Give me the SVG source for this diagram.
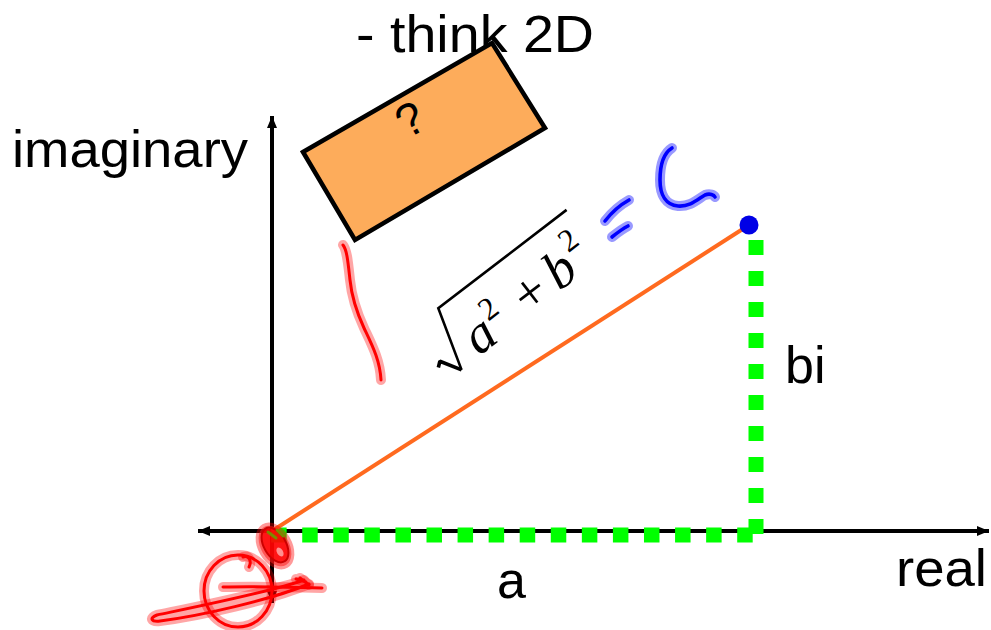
<svg xmlns="http://www.w3.org/2000/svg" xmlns:xlink="http://www.w3.org/1999/xlink" width="991" height="630" viewBox="0 0 991 630">
  <style>
    .lbl { font-family: "Liberation Sans", Arial, sans-serif; font-size: 52px; fill: #000; }
    .math { font-family: "Liberation Serif", "Times New Roman", serif; fill: #000; }
    .axis { stroke: #000; stroke-width: 4; fill: none; }
    .green { stroke: #00ff00; stroke-width: 15; fill: none; }
    .rhalo { stroke: #ff0000; stroke-opacity: 0.35; stroke-width: 10; fill: none; stroke-linecap: round; stroke-linejoin: round; }
    .rcore { stroke: #ff0000; stroke-width: 3; fill: none; stroke-linecap: round; stroke-linejoin: round; }
    .bhalo { stroke: #0000ff; stroke-opacity: 0.4; stroke-width: 10; fill: none; stroke-linecap: round; stroke-linejoin: round; }
    .bcore { stroke: #0000ff; stroke-width: 3.6; fill: none; stroke-linecap: round; stroke-linejoin: round; }
  </style>
  <defs>
    <marker id="arr" viewBox="0 0 12 10" refX="12" refY="5" markerWidth="12" markerHeight="10" markerUnits="userSpaceOnUse" orient="auto-start-reverse">
      <path d="M0,0 L12,5 L0,10 Z" fill="#000"/>
    </marker>
    <path id="redLine" d="M343,245 C347,250 348,262 350,280 C352,300 358,315 364,328 C372,345 380,360 381,380"/>
    <ellipse id="redCircle" cx="238" cy="591" rx="34" ry="36"/>
    <path id="redHook" d="M243,557 C249,555 252,561 249,567"/>
    <path id="redLoop" d="M304,580 C270,592 200,606 157,615 C149,618 151,622 160,621 C200,616 270,600 309,584"/>
    <path id="redStroke" d="M223,587 C255,586 290,587 322,588"/>
    <path id="redTicks" d="M296,579 L306,582 M300,578 L309,585"/>
    <path id="blueEq1" d="M605,221 C612,212 620,205 629,200"/>
    <path id="blueEq2" d="M612,237 C617,233 622,229 628,226"/>
    <path id="blueC" d="M672,148 C664,153 660,165 660,180 C660,195 666,205 678,206 C690,207 698,199 705,195 C710,193 714,195 715,197"/>
  </defs>

  <g id="title">
    <text class="lbl" x="356" y="52" textLength="238" lengthAdjust="spacingAndGlyphs">- think 2D</text>
  </g>

  <g id="axes">
    <line class="axis" x1="272" y1="603" x2="272" y2="116" marker-end="url(#arr)" marker-start="url(#arr)"/>
    <line class="axis" x1="198" y1="531" x2="989" y2="531" marker-end="url(#arr)" marker-start="url(#arr)"/>
  </g>

  <g id="labels">
    <text class="lbl" x="12" y="167" textLength="236" lengthAdjust="spacingAndGlyphs">imaginary</text>
    <text class="lbl" x="896" y="586" textLength="91" lengthAdjust="spacingAndGlyphs">real</text>
    <text class="lbl" x="785" y="383">bi</text>
    <text class="lbl" x="497" y="598">a</text>
  </g>

  <g id="box">
    <polygon points="303,152 492,43 545,128 355,240" fill="#fdac5b" stroke="#000" stroke-width="4.5" stroke-linejoin="miter"/>
    <text x="418" y="133" transform="rotate(-30 418 133)" text-anchor="middle" style="font-family:'Liberation Sans',Arial,sans-serif;font-size:46px;fill:#000">?</text>
  </g>

  <g id="connectors">
    <path class="green" d="M752.7,535 H270" stroke-dasharray="15.5 15.57"/>
    <path class="green" d="M756,534 V239" stroke-dasharray="15 16"/>
    <line x1="272" y1="531" x2="749" y2="225" stroke="#ff6a1f" stroke-width="4"/>
    <circle cx="749" cy="225" r="9.5" fill="#0000e6"/>
  </g>

  <g id="formula" transform="translate(438.3,308.3) rotate(-37.5)">
    <path d="M-19,63 L0,0 L161.7,0" fill="none" stroke="#000" stroke-width="2.6"/>
    <path d="M-36,47 L-31,43 L-19,63" fill="none" stroke="#000" stroke-width="3.6" stroke-linejoin="bevel"/>
    <text class="math" x="3" y="63" font-size="54" font-style="italic">a</text>
    <text class="math" x="31.5" y="41" font-size="32">2</text>
    <text class="math" x="67" y="61" font-size="54">+</text>
    <text class="math" x="106.5" y="60.5" font-size="54" font-style="italic">b</text>
    <text class="math" x="136.5" y="35.5" font-size="32">2</text>
  </g>

  <g id="blue-ink">
    <use xlink:href="#blueEq1" class="bhalo"/>
    <use xlink:href="#blueEq2" class="bhalo"/>
    <use xlink:href="#blueC" class="bhalo"/>
    <use xlink:href="#blueEq1" class="bcore"/>
    <use xlink:href="#blueEq2" class="bcore"/>
    <use xlink:href="#blueC" class="bcore"/>
  </g>

  <g id="red-ink">
    <use xlink:href="#redLine" class="rhalo"/>
    <use xlink:href="#redLine" class="rcore"/>
    <g id="origin-blob">
      <ellipse cx="275" cy="546" rx="22" ry="14" transform="rotate(60 275 546)" fill="#ff3030" fill-opacity="0.55" stroke="#ff0000" stroke-opacity="0.4" stroke-width="6"/>
      <ellipse cx="275" cy="545" rx="19" ry="11" transform="rotate(60 275 545)" fill="#ff0000" fill-opacity="0.85" stroke="#cc0000" stroke-width="2"/>
      <path d="M268,532 L276,538 M277,530 L283,536" stroke="#7a8a00" stroke-width="3" stroke-linecap="round"/>
      <ellipse cx="280" cy="552" rx="5" ry="3" transform="rotate(60 280 552)" fill="#ff9090"/>
    </g>
    <use xlink:href="#redCircle" class="rhalo"/>
    <use xlink:href="#redHook" class="rhalo"/>
    <use xlink:href="#redLoop" class="rhalo"/>
    <use xlink:href="#redStroke" class="rhalo"/>
    <use xlink:href="#redTicks" class="rhalo"/>
    <use xlink:href="#redCircle" class="rcore"/>
    <use xlink:href="#redHook" class="rcore"/>
    <use xlink:href="#redLoop" class="rcore"/>
    <use xlink:href="#redStroke" class="rcore"/>
    <use xlink:href="#redTicks" class="rcore"/>
  </g>
</svg>
